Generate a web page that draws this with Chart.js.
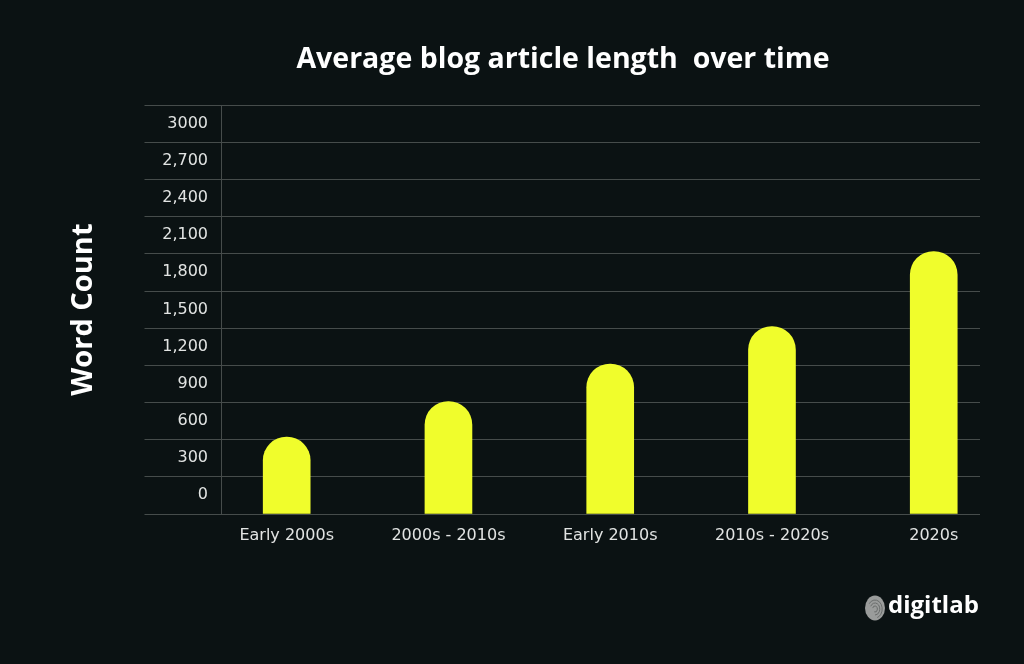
<!DOCTYPE html>
<html>
<head>
<meta charset="utf-8">
<script src="https://cdn.jsdelivr.net/npm/chart.js@4.4.1/dist/chart.umd.min.js"></script>
<style>
  html, body { margin: 0; padding: 0; background: #0b1213; }
  canvas { display: block; }
</style>
</head>
<body>
<canvas id="c" width="1024" height="664"></canvas>
<script>
// ---- data ----
const categories = ['Early 2000s', '2000s - 2010s', 'Early 2010s', '2010s - 2020s', '2020s'];
const wordCounts = [615, 900, 1200, 1500, 2100];
const yTickLabels = ['0', '300', '600', '900', '1,200', '1,500', '1,800', '2,100', '2,400', '2,700', '3000'];
const chartTitle = 'Average blog article length  over time';
const yAxisTitle = 'Word Count';
const brandName = 'digitlab';

// ---- styles ----
const bgColor = '#0b1213';
const gridColor = '#464c4b';
const barColor = '#f0fd2c';
const tickColor = '#e2e4e3';

const backgroundPlugin = {
  id: 'bg',
  beforeDraw(chart) {
    const ctx = chart.ctx;
    ctx.save();
    ctx.fillStyle = bgColor;
    ctx.fillRect(0, 0, chart.width, chart.height);
    ctx.restore();
  }
};

const logoPlugin = {
  id: 'logo',
  afterDraw(chart) {
    const ctx = chart.ctx;
    ctx.save();
    // fingerprint-like mark
    const cx = 875, cy = 608;
    ctx.fillStyle = '#9a9c9b';
    ctx.beginPath();
    ctx.ellipse(cx, cy, 10, 12.5, 0, 0, Math.PI * 2);
    ctx.fill();
    ctx.strokeStyle = '#6a6d6c';
    ctx.lineWidth = 1;
    [3, 6, 9].forEach((r, k) => {
      ctx.beginPath();
      ctx.ellipse(cx, cy + 1, r * 0.8, r, 0, Math.PI * (1.1 + k * 0.05), Math.PI * (2.6 - k * 0.1));
      ctx.stroke();
    });
    // brand text
    ctx.fillStyle = '#ffffff';
    ctx.font = 'bold 24px "Open Sans"';
    ctx.textBaseline = 'alphabetic';
    ctx.textAlign = 'left';
    ctx.fillText(brandName, 888, 613);
    ctx.restore();
  }
};

new Chart(document.getElementById('c'), {
  type: 'bar',
  data: {
    datasets: [{
      data: wordCounts.map((v, i) => ({ x: i, y: v })),
      backgroundColor: barColor,
      borderWidth: 0,
      barThickness: 47,
      borderSkipped: 'bottom',
      borderRadius: { topLeft: 24, topRight: 24, bottomLeft: 0, bottomRight: 0 }
    }]
  },
  options: {
    responsive: false,
    devicePixelRatio: 1,
    animation: false,
    layout: { padding: { left: 146, right: 44, top: 0, bottom: 90 } },
    plugins: {
      legend: { display: false },
      tooltip: { enabled: false },
      title: {
        display: true,
        text: chartTitle,
        color: '#ffffff',
        font: { family: 'Open Sans', size: 28.5, weight: 'bold' },
        padding: { top: 43, bottom: 28 }
      }
    },
    scales: {
      x: {
        type: 'linear',
        offset: false,
        bounds: 'data',
        min: -0.403,
        max: 4.286,
        afterBuildTicks: s => { s.ticks = categories.map((_, i) => ({ value: i })); },
        afterFit: s => { s.height = 60; },
        grid: { display: false, drawTicks: false, offset: false },
        border: { display: false },
        ticks: {
          autoSkip: false,
          maxRotation: 0,
          padding: 12,
          color: tickColor,
          font: { family: 'DejaVu Sans', size: 16 },
          callback: v => categories[v] ?? ''
        }
      },
      y: {
        min: 0,
        max: 3270,
        afterFit: s => { s.width = 75.5; },
        grid: { color: gridColor, lineWidth: 1, drawTicks: true, tickLength: 77, tickColor: gridColor },
        border: { display: true, color: gridColor, width: 1 },
        ticks: {
          stepSize: 300,
          labelOffset: -18.75,
          padding: -63.5,
          color: tickColor,
          font: { family: 'DejaVu Sans', size: 16 },
          callback: (v, i) => yTickLabels[i] ?? ''
        },
        title: {
          display: true,
          text: yAxisTitle,
          color: '#ffffff',
          font: { family: 'Open Sans', size: 29, weight: 'bold' },
          padding: { top: -80, bottom: 0 }
        }
      }
    }
  },
  plugins: [backgroundPlugin, logoPlugin]
});
</script>
</body>
</html>
